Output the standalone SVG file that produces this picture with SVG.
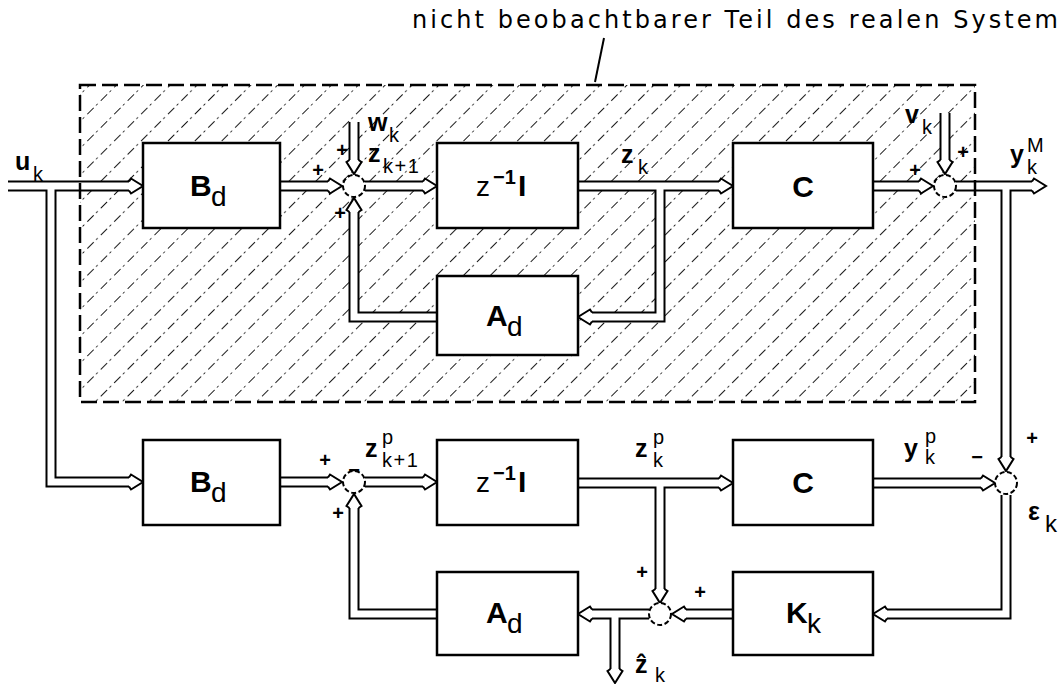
<svg xmlns="http://www.w3.org/2000/svg" width="1062" height="684" viewBox="0 0 1062 684">
<style>
.cb{fill:none;stroke:#000;stroke-width:11}
.cw{fill:none;stroke:#fff;stroke-width:7}
.box{fill:#fff;stroke:#000;stroke-width:2.5}
.sum{fill:#fff;stroke:#000;stroke-width:2;stroke-dasharray:5 2.5}
text{font-family:"Liberation Sans",Arial,sans-serif;fill:#000}
.v{font-size:25px;font-weight:bold}
.s{font-size:20px}
.lb{font-size:30px;font-weight:bold}
.ls{font-size:28px}
.pm{font-size:20px;font-weight:bold;text-anchor:middle}
</style>
<defs>
<pattern id="hatch" width="19" height="19" patternUnits="userSpaceOnUse" patternTransform="rotate(-45)">
<line x1="0" y1="9.5" x2="19" y2="9.5" stroke="#1a1a1a" stroke-width="1.2" stroke-dasharray="9 3.5 2 4.5"/>
</pattern>
<path id="ah" d="M-14,-4.5 L-12,-7.5 L0,0 L-12,7.5 L-14,4.5" fill="#fff" stroke="#000" stroke-width="2"/>
<path id="wires" d="M8,186 H130 M51,186 V482 H130 M280,186 H329 M354,122 V161 M437,317 H354 V211 M365,186 H424 M578,186 H720 M660,186 V317 H591 M873,186 H920 M945,113 V161 M956,186 H1033 M1006,186 V458 M280,482 H329 M437,614 H354 V507 M365,482 H424 M578,483 H720 M660,483 V590 M873,483 H982 M1006,495 V614 H886 M733,614 H685 M649,614 H591 M615,614 V670"/>
</defs>
<rect x="80" y="85" width="895" height="317" fill="url(#hatch)"/>
<g id="connectors">
<use href="#wires" class="cb"/>
<use href="#wires" class="cw"/>
<use href="#ah" transform="translate(143,186)"/>
<use href="#ah" transform="translate(342,186)"/>
<use href="#ah" transform="translate(437,186)"/>
<use href="#ah" transform="translate(733,186)"/>
<use href="#ah" transform="translate(933,186)"/>
<use href="#ah" transform="translate(1046,186)"/>
<use href="#ah" transform="translate(143,482)"/>
<use href="#ah" transform="translate(342,482)"/>
<use href="#ah" transform="translate(437,482)"/>
<use href="#ah" transform="translate(733,483)"/>
<use href="#ah" transform="translate(995,483)"/>
<use href="#ah" transform="translate(354,174) rotate(90)"/>
<use href="#ah" transform="translate(945,174) rotate(90)"/>
<use href="#ah" transform="translate(1006,471) rotate(90)"/>
<use href="#ah" transform="translate(660,603) rotate(90)"/>
<use href="#ah" transform="translate(615,683) rotate(90)"/>
<use href="#ah" transform="translate(354,198) rotate(-90)"/>
<use href="#ah" transform="translate(354,494) rotate(-90)"/>
<use href="#ah" transform="translate(578,317) rotate(180)"/>
<use href="#ah" transform="translate(873,614) rotate(180)"/>
<use href="#ah" transform="translate(672,614) rotate(180)"/>
<use href="#ah" transform="translate(578,614) rotate(180)"/>
</g>
<g id="Bd1"><rect class="box" x="143" y="143" width="137" height="85"/><text x="190" y="196" class="lb">B</text><text x="211" y="206" class="ls">d</text></g>
<g id="zI1"><rect class="box" x="437" y="143" width="141" height="85"/><text x="476" y="196" class="ls">z</text><text x="493" y="184" style="font-size:20px;font-weight:bold">−1</text><text x="518" y="196" class="lb">I</text></g>
<g id="C1"><rect class="box" x="733" y="143" width="140" height="85"/><text x="803" y="197" class="lb" text-anchor="middle">C</text></g>
<g id="Ad1"><rect class="box" x="437" y="276" width="141" height="79"/><text x="486" y="326" class="lb">A</text><text x="507" y="336" class="ls">d</text></g>
<g id="Bd2"><rect class="box" x="143" y="440" width="137" height="85"/><text x="190" y="492" class="lb">B</text><text x="211" y="502" class="ls">d</text></g>
<g id="zI2"><rect class="box" x="437" y="440" width="141" height="85"/><text x="476" y="492" class="ls">z</text><text x="493" y="480" style="font-size:20px;font-weight:bold">−1</text><text x="518" y="492" class="lb">I</text></g>
<g id="C2"><rect class="box" x="733" y="440" width="140" height="85"/><text x="803" y="493" class="lb" text-anchor="middle">C</text></g>
<g id="Ad2"><rect class="box" x="437" y="572" width="141" height="83"/><text x="486" y="623" class="lb">A</text><text x="507" y="633" class="ls">d</text></g>
<g id="Kk"><rect class="box" x="733" y="572" width="140" height="83"/><text x="786" y="623" class="lb">K</text><text x="807" y="633" class="ls">k</text></g>
<g id="J1"><circle class="sum" cx="354" cy="186" r="11"/></g>
<g id="J2"><circle class="sum" cx="945" cy="186" r="11"/></g>
<g id="J3"><circle class="sum" cx="1006" cy="483" r="11"/></g>
<g id="J4"><circle class="sum" cx="354" cy="482" r="11"/></g>
<g id="J5"><circle class="sum" cx="660" cy="614" r="11"/></g>
<g id="signs">
<text x="318" y="177" class="pm">+</text>
<text x="342" y="157" class="pm">+</text>
<text x="340" y="220" class="pm">+</text>
<text x="915" y="177" class="pm">+</text>
<text x="963" y="159" class="pm">+</text>
<text x="325" y="467" class="pm">+</text>
<text x="354" y="477" class="pm">−</text>
<text x="338" y="520" class="pm">+</text>
<text x="977" y="464" class="pm">−</text>
<text x="1032" y="445" class="pm">+</text>
<text x="642" y="579" class="pm">+</text>
<text x="700" y="599" class="pm">+</text>
</g>
<g id="labels">
<text x="15" y="170" class="v">u</text><text x="33" y="181" class="s">k</text>
<text x="368" y="131" class="v">w</text><text x="389" y="142" class="s">k</text>
<text x="368" y="162" class="v">z</text><text x="383" y="173" class="s" letter-spacing="1.5">k+1</text>
<text x="621" y="163" class="v">z</text><text x="638" y="174" class="s">k</text>
<text x="905" y="123" class="v">v</text><text x="922" y="134" class="s">k</text>
<text x="1010" y="163" class="v">y</text><text x="1027" y="152" class="s">M</text><text x="1027" y="174" class="s">k</text>
<text x="365" y="457" class="v">z</text><text x="382" y="444" class="s">p</text><text x="382" y="467" class="s" letter-spacing="1.5">k+1</text>
<text x="635" y="457" class="v">z</text><text x="653" y="444" class="s">p</text><text x="653" y="467" class="s">k</text>
<text x="904" y="457" class="v">y</text><text x="925" y="443" class="s">p</text><text x="925" y="464" class="s">k</text>
<text x="1028" y="520" class="v">ε</text><text x="1045" y="532" style="font-size:24px">k</text>
<text x="635" y="673" class="v">ẑ</text><text x="655" y="682" class="s">k</text>
</g>
<g id="title">
<text x="412" y="28" style="font-family:'DejaVu Sans',sans-serif;font-size:24px" textLength="646" lengthAdjust="spacing">nicht beobachtbarer Teil des realen System</text>
<line x1="604" y1="38" x2="595" y2="82" stroke="#000" stroke-width="2"/>
</g>
<rect id="boundary" x="80" y="85" width="895" height="317" fill="none" stroke="#000" stroke-width="2.5" stroke-dasharray="16 6"/>
</svg>
